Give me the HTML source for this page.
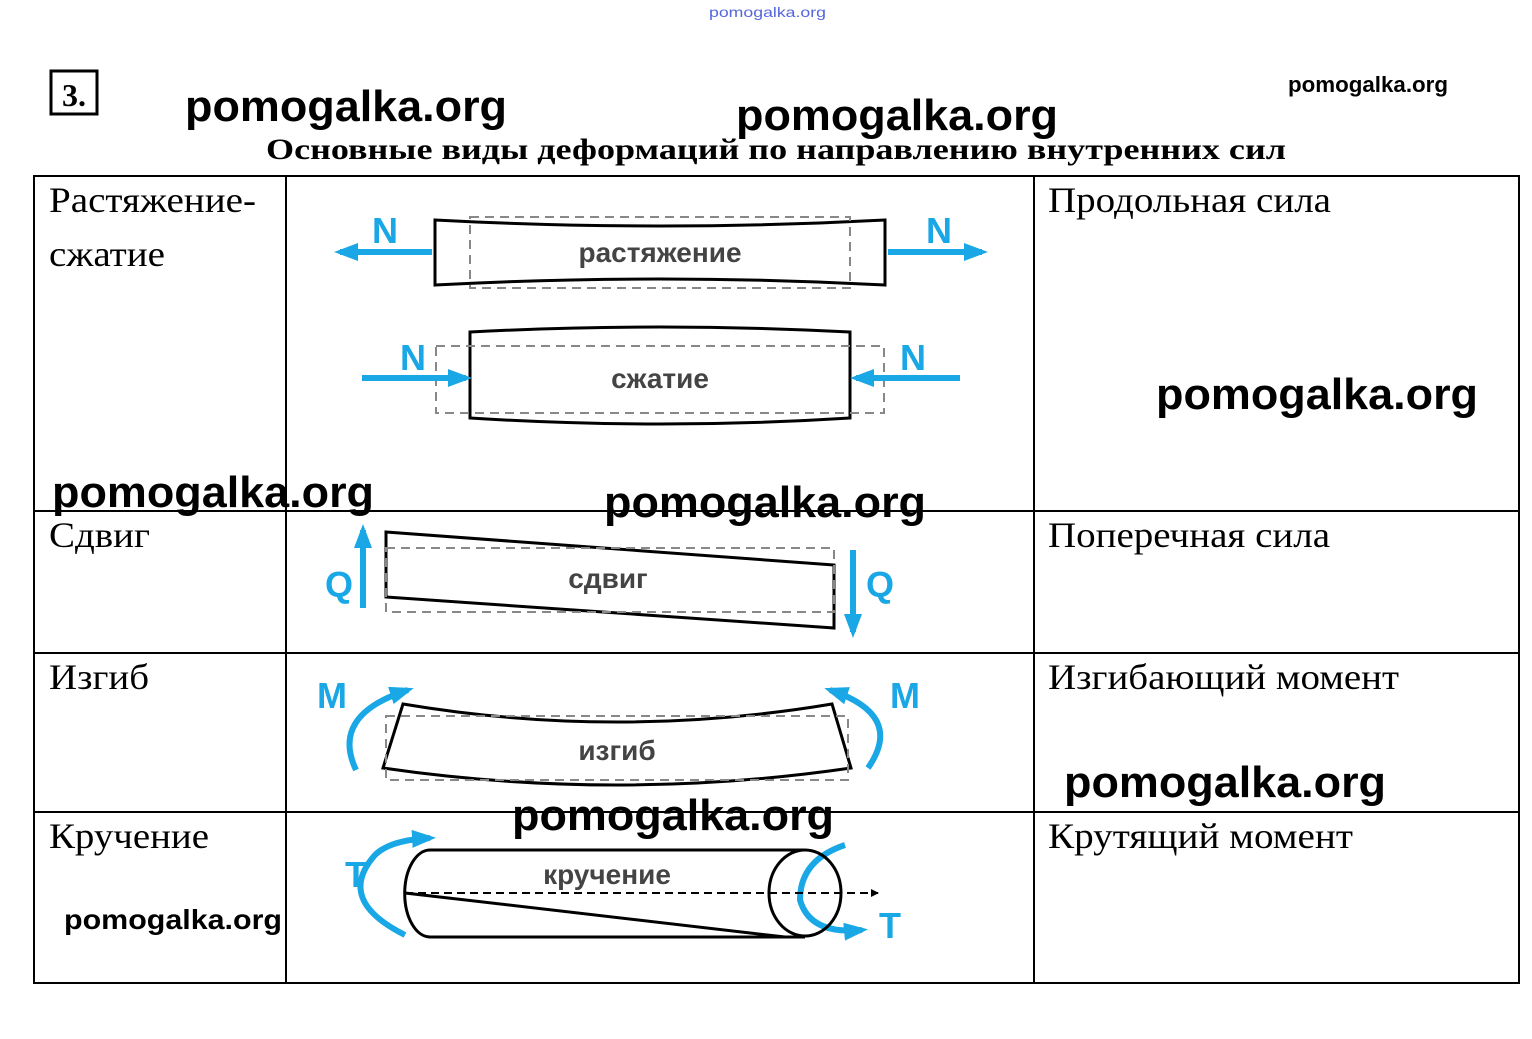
<!DOCTYPE html>
<html><head><meta charset="utf-8"><style>
html,body{margin:0;padding:0;background:#fff;}
body{width:1532px;height:1039px;overflow:hidden;position:relative;}
svg{position:absolute;left:0;top:0;}
.serif{font-family:"Liberation Serif","DejaVu Serif",serif;}
.sans{font-family:"Liberation Sans","DejaVu Sans",sans-serif;}
</style></head><body>
<svg width="1532" height="1039" viewBox="0 0 1532 1039">
<defs>
<marker id="bh" viewBox="0 0 24 20" markerWidth="24" markerHeight="20" refX="18" refY="10" orient="auto" markerUnits="userSpaceOnUse"><path d="M0,1 L24,10 L0,19 Z" fill="#19a7e6"/></marker>
<marker id="kh" viewBox="0 0 8 8" markerWidth="8" markerHeight="8" refX="7" refY="4" orient="auto" markerUnits="userSpaceOnUse"><path d="M0,0 L8,4 L0,8 Z" fill="#000"/></marker>
</defs>
<text x="709" y="17" font-size="14" fill="#5566dd" class="sans" textLength="117" lengthAdjust="spacingAndGlyphs">pomogalka.org</text>
<rect x="51" y="71" width="46" height="43" fill="none" stroke="#000" stroke-width="3"/>
<text x="74" y="106" font-size="32" text-anchor="middle" class="serif" font-weight="bold">3.</text>
<text x="1288" y="92" font-size="22" class="sans" font-weight="bold" textLength="160" lengthAdjust="spacingAndGlyphs">pomogalka.org</text>
<g class="sans" font-size="44" font-weight="bold">
<text x="185" y="121" textLength="322" lengthAdjust="spacingAndGlyphs">pomogalka.org</text>
<text x="736" y="130" textLength="322" lengthAdjust="spacingAndGlyphs">pomogalka.org</text>
</g>
<text x="266" y="159" font-size="30" font-weight="bold" class="serif" textLength="1020" lengthAdjust="spacingAndGlyphs">Основные виды деформаций по направлению внутренних сил</text>
<g stroke="#000" stroke-width="2" fill="none">
<rect x="34" y="176" width="1485" height="807"/>
<line x1="286" y1="176" x2="286" y2="983"/>
<line x1="1034" y1="176" x2="1034" y2="983"/>
<line x1="34" y1="511" x2="1519" y2="511"/>
<line x1="34" y1="653" x2="1519" y2="653"/>
<line x1="34" y1="812" x2="1519" y2="812"/>
</g>
<g class="serif" font-size="36">
<text x="49" y="212" textLength="207" lengthAdjust="spacingAndGlyphs">Растяжение-</text>
<text x="49" y="266" textLength="116" lengthAdjust="spacingAndGlyphs">сжатие</text>
<text x="49" y="547" textLength="101" lengthAdjust="spacingAndGlyphs">Сдвиг</text>
<text x="49" y="689" textLength="100" lengthAdjust="spacingAndGlyphs">Изгиб</text>
<text x="49" y="848" textLength="160" lengthAdjust="spacingAndGlyphs">Кручение</text>
<text x="1048" y="212" textLength="283" lengthAdjust="spacingAndGlyphs">Продольная сила</text>
<text x="1048" y="547" textLength="282" lengthAdjust="spacingAndGlyphs">Поперечная сила</text>
<text x="1048" y="689" textLength="351" lengthAdjust="spacingAndGlyphs">Изгибающий момент</text>
<text x="1048" y="848" textLength="305" lengthAdjust="spacingAndGlyphs">Крутящий момент</text>
</g>
<g class="sans" font-size="44" font-weight="bold">
<text x="1156" y="409" textLength="322" lengthAdjust="spacingAndGlyphs">pomogalka.org</text>
<text x="52" y="507" textLength="322" lengthAdjust="spacingAndGlyphs">pomogalka.org</text>
<text x="604" y="517" textLength="322" lengthAdjust="spacingAndGlyphs">pomogalka.org</text>
<text x="1064" y="797" textLength="322" lengthAdjust="spacingAndGlyphs">pomogalka.org</text>
<text x="512" y="830" textLength="322" lengthAdjust="spacingAndGlyphs">pomogalka.org</text>
</g>
<text x="64" y="929" font-size="28" class="sans" font-weight="bold" textLength="218" lengthAdjust="spacingAndGlyphs">pomogalka.org</text>
<g stroke="#000" stroke-width="3" fill="none">
<path d="M435,220 Q660,232 885,220 L885,285 Q660,273 435,285 Z"/>
<path d="M470,332 Q660,322 850,332 L850,418 Q660,430 470,418 Z"/>
</g>
<g stroke="#888" stroke-width="2" fill="none" stroke-dasharray="9,6">
<rect x="470" y="217" width="380" height="71"/>
<rect x="436" y="346" width="448" height="67"/>
</g>
<g class="sans" font-size="28" fill="#444" text-anchor="middle" font-weight="bold">
<text x="660" y="262">растяжение</text>
<text x="660" y="388">сжатие</text>
<text x="608" y="588">сдвиг</text>
<text x="617" y="760">изгиб</text>
<text x="607" y="884">кручение</text>
</g>
<g stroke="#19a7e6" stroke-width="6" fill="none" marker-end="url(#bh)">
<line x1="432" y1="252" x2="340" y2="252"/>
<line x1="888" y1="252" x2="982" y2="252"/>
<line x1="362" y1="378" x2="466" y2="378"/>
<line x1="960" y1="378" x2="856" y2="378"/>
<line x1="363" y1="608" x2="363" y2="530"/>
<line x1="853" y1="550" x2="853" y2="632"/>
<path d="M356,770 Q330,715 408,690"/>
<path d="M868,768 Q905,715 830,690"/>
<path d="M405,935 Q335,900 375,855 Q390,840 430,838"/>
<path d="M845,845 Q800,860 800,900 Q810,935 862,930"/>
</g>
<g class="sans" font-size="36" fill="#19a7e6" font-weight="bold">
<text x="372" y="243">N</text>
<text x="926" y="243">N</text>
<text x="400" y="370">N</text>
<text x="900" y="370">N</text>
<text x="325" y="597">Q</text>
<text x="866" y="597">Q</text>
<text x="317" y="708">M</text>
<text x="890" y="708">M</text>
<text x="345" y="887">T</text>
<text x="879" y="938">T</text>
</g>
<path d="M386,532 L834,565 L834,628 L386,597 Z" fill="none" stroke="#000" stroke-width="3"/>
<rect x="386" y="548" width="448" height="64" fill="none" stroke="#888" stroke-width="2" stroke-dasharray="9,6"/>
<path d="M403,704 Q617,740 832,704 L851,768 Q617,802 383,768 Z" fill="none" stroke="#000" stroke-width="3"/>
<rect x="386" y="716" width="462" height="64" fill="none" stroke="#888" stroke-width="2" stroke-dasharray="9,6"/>
<g stroke="#000" stroke-width="3" fill="none">
<path d="M430,850 L805,850 M430,937 L805,937 M430,850 A25,43 0 0 0 430,937"/>
<ellipse cx="805" cy="893" rx="36" ry="43"/>
<line x1="405" y1="893" x2="785" y2="937"/>
</g>
<line x1="405" y1="893" x2="878" y2="893" stroke="#000" stroke-width="2" stroke-dasharray="8,5" marker-end="url(#kh)"/>
</svg>
</body></html>
